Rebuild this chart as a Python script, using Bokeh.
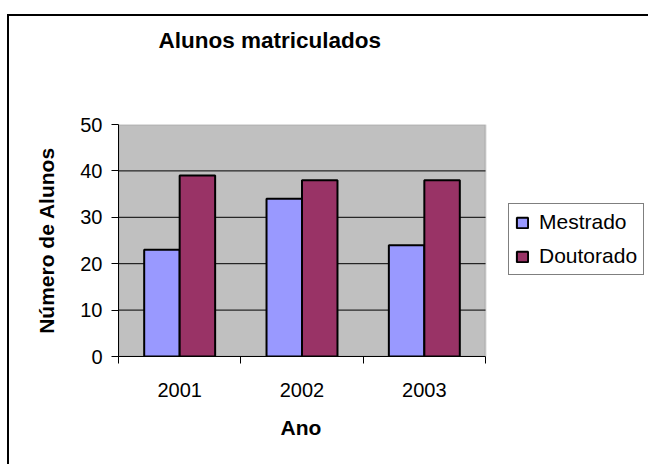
from bokeh.plotting import figure
from bokeh.models import ColumnDataSource, FixedTicker, Legend, LegendItem, Range1d, BoxAnnotation, Title
from bokeh.transform import dodge
from bokeh.embed import file_html
from bokeh.resources import INLINE

years = ["2001", "2002", "2003"]
mestrado = [23, 34, 24]
doutorado = [39, 38, 38]
y_ticks = [0, 10, 20, 30, 40, 50]

FONT = "Liberation Sans"

# layout (pixels)
FIG_W, FIG_H = 641, 450
BORDER_L, BORDER_T, BORDER_B = 109, 108, 110
PLOT_AREA_W = 367          # width of the grey plot area
FRAME_W = FIG_W - BORDER_L  # frame runs to the right edge (room for legend)

n = len(years)
centers = [i + 0.5 for i in range(n)]
src = ColumnDataSource(dict(x=centers, m=mestrado, d=doutorado))
grid_src = ColumnDataSource(dict(y=y_ticks[1:-1]))

p = figure(width=FIG_W, height=FIG_H, output_backend="svg", toolbar_location=None,
           x_range=Range1d(0, n * FRAME_W / PLOT_AREA_W), y_range=Range1d(0, y_ticks[-1]),
           min_border_left=BORDER_L, min_border_right=0,
           min_border_top=BORDER_T, min_border_bottom=BORDER_B)
p.margin = (14, 0, 0, 7)
p.styles = {"border-top": "2px solid black", "border-left": "2px solid black"}

p.background_fill_color = "white"
p.border_fill_color = "white"
p.outline_line_color = None
p.xgrid.grid_line_color = None
p.ygrid.grid_line_color = None

# grey plot area
area = BoxAnnotation(left=0, right=n, bottom=y_ticks[0], top=y_ticks[-1],
                     fill_color="#C0C0C0", fill_alpha=1,
                     line_color="#808080", line_width=2, level="underlay")
p.add_layout(area)

# horizontal grid lines
p.segment(x0=0, x1=n, y0="y", y1="y", source=grid_src, line_color="black", line_width=1)

bw = 0.29
r1 = p.vbar(x=dodge("x", -bw / 2), top="m", width=bw, source=src,
            fill_color="#9999FF", line_color="black", line_width=2)
r2 = p.vbar(x=dodge("x", bw / 2), top="d", width=bw, source=src,
            fill_color="#993366", line_color="black", line_width=2)

# x axis
xa = p.xaxis[0]
xa.bounds = (0, n)
xa.ticker = FixedTicker(ticks=centers, minor_ticks=list(range(n + 1)))
xa.major_label_overrides = {c: y for c, y in zip(centers, years)}
xa.major_tick_line_color = None
xa.major_tick_out = 0
xa.major_tick_in = 0
xa.minor_tick_line_color = "black"
xa.minor_tick_out = 7
xa.minor_tick_in = 0
xa.axis_line_color = "black"
xa.major_label_text_font = FONT
xa.major_label_text_font_size = "20px"
xa.major_label_text_color = "black"
xa.major_label_standoff = 19

# x axis title, centred under the grey plot area
xtitle = Title(text="Ano", align="left", offset=162, vertical_align="top", standoff=33,
               text_font=FONT, text_font_size="21px", text_font_style="bold", text_color="black")
p.add_layout(xtitle, "below")

# y axis
ya = p.yaxis[0]
ya.ticker = FixedTicker(ticks=y_ticks)
ya.minor_tick_line_color = None
ya.major_tick_line_color = "black"
ya.major_tick_out = 7
ya.major_tick_in = 0
ya.axis_line_color = "black"
ya.major_label_text_font = FONT
ya.major_label_text_font_size = "20px"
ya.major_label_text_color = "black"
ya.major_label_standoff = 9
ya.axis_label = "Número de Alunos"
ya.axis_label_text_font = FONT
ya.axis_label_text_font_size = "21px"
ya.axis_label_text_font_style = "bold"
ya.axis_label_text_color = "black"
ya.axis_label_standoff = 19

# spacer between plot area and chart title
spacer = Title(text=" ", text_font_size="1px", standoff=69)
p.add_layout(spacer, "above")

# title
p.title.text = "Alunos matriculados"
p.title.text_font = FONT
p.title.text_font_size = "22.5px"
p.title.text_font_style = "bold"
p.title.text_color = "black"
p.title.align = "left"
p.title.offset = 40
p.title.standoff = 0

# legend
legend = Legend(items=[LegendItem(label="Mestrado", renderers=[r1]),
                       LegendItem(label="Doutorado", renderers=[r2])],
                location=(390, 81))
legend.glyph_width = 14
legend.glyph_height = 13
legend.label_text_font = FONT
legend.label_text_font_size = "21px"
legend.label_text_color = "black"
legend.border_line_color = "black"
legend.border_line_width = 1
legend.background_fill_color = "white"
legend.background_fill_alpha = 1
legend.padding = 6
legend.spacing = 10
legend.label_standoff = 10
legend.margin = 0
p.add_layout(legend, "center")

open("out.html", "w").write(file_html(p, INLINE))
